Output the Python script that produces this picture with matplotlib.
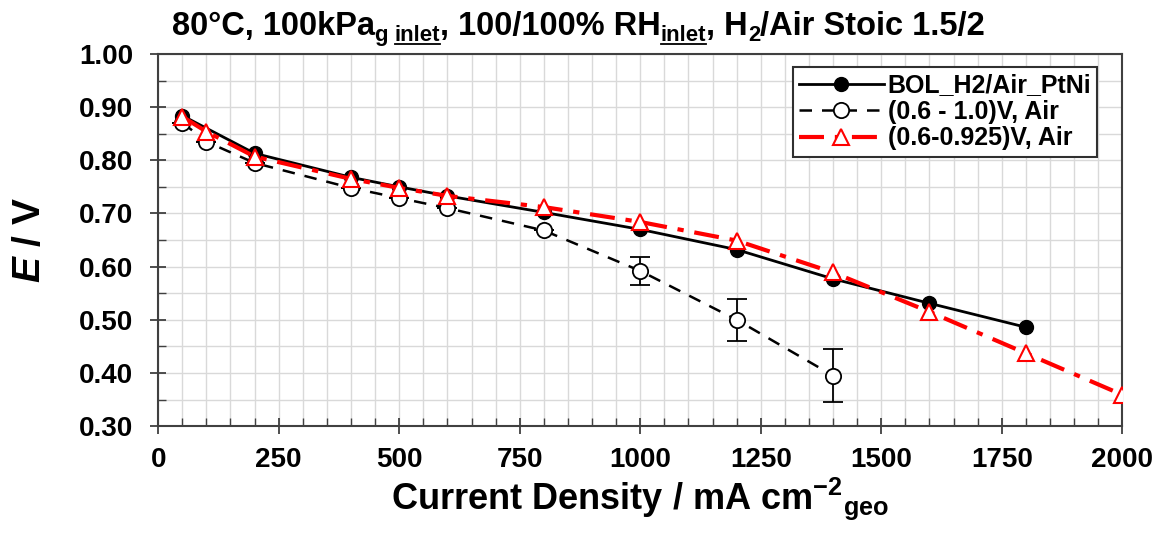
import matplotlib
matplotlib.use("Agg")
import matplotlib.pyplot as plt
from matplotlib.ticker import MultipleLocator, FormatStrFormatter
from matplotlib.lines import Line2D

plt.rcParams['font.family'] = ['Liberation Sans', 'DejaVu Sans']
plt.rcParams['font.weight'] = 'bold'
plt.rcParams['mathtext.fontset'] = 'custom'
plt.rcParams['mathtext.rm'] = 'Liberation Sans:bold'
plt.rcParams['mathtext.it'] = 'Liberation Sans:bold:italic'
plt.rcParams['mathtext.bf'] = 'Liberation Sans:bold'

# ---- data ----
bol_x = [50, 200, 400, 500, 600, 800, 1000, 1200, 1400, 1600, 1800]
bol_y = [0.884, 0.813, 0.768, 0.750, 0.733, 0.702, 0.670, 0.632, 0.577, 0.531, 0.486]

air10_x = [50, 100, 200, 400, 500, 600, 800, 1000, 1200, 1400]
air10_y = [0.871, 0.835, 0.795, 0.748, 0.729, 0.710, 0.668, 0.592, 0.500, 0.395]
air10_err = [0, 0, 0, 0, 0, 0, 0, 0.026, 0.040, 0.050]

air925_x = [50, 100, 200, 400, 500, 600, 800, 1000, 1200, 1400, 1600, 1800, 2000]
air925_y = [0.882, 0.854, 0.807, 0.765, 0.748, 0.733, 0.712, 0.684, 0.649, 0.589, 0.515, 0.437, 0.359]

labels = ["BOL_H2/Air_PtNi", "(0.6 - 1.0)V, Air", "(0.6-0.925)V, Air"]

fig = plt.figure(figsize=(11.63, 5.34), dpi=100)
ax = fig.add_axes([0.136, 0.202, 0.829, 0.697])

spine_col = '#404040'
ax.set_xlim(0, 2000)
ax.set_ylim(0.30, 1.00)
ax.xaxis.set_major_locator(MultipleLocator(250))
ax.xaxis.set_minor_locator(MultipleLocator(50))
ax.yaxis.set_major_locator(MultipleLocator(0.1))
ax.yaxis.set_minor_locator(MultipleLocator(0.05))
ax.yaxis.set_major_formatter(FormatStrFormatter('%.2f'))
ax.grid(True, which='both', color='#d9d9d9', linewidth=1.0, zorder=0)
ax.set_axisbelow(True)
for s in ax.spines.values():
    s.set_color(spine_col)
    s.set_linewidth(1.5)
ax.tick_params(which='major', direction='inout', length=12, width=1.3, color=spine_col,
               labelsize=20)
ax.tick_params(axis='y', which='major', pad=12)
ax.tick_params(axis='x', which='major', pad=9)
ax.tick_params(which='minor', direction='in', length=6, width=1.0, color=spine_col)

l1, = ax.plot(bol_x, bol_y, '-', color='black', lw=2.0, marker='o', ms=10,
              mfc='black', mec='black', zorder=3)
ax.errorbar(air10_x, air10_y, yerr=air10_err, fmt='none',
            ecolor='black', elinewidth=1.3, capsize=7, capthick=1.3, zorder=4)
l2, = ax.plot(air10_x, air10_y, color='black', lw=1.8, dashes=(5, 4),
              marker='o', ms=11, mfc='white', mec='black', mew=1.3, zorder=4)
l3, = ax.plot(air925_x, air925_y, color='red', lw=3.0, dashes=(6, 2.6, 1.5, 2.6),
              marker='^', ms=12, mfc='white', mec='red', mew=1.5, zorder=5)

for lab in ax.get_xticklabels() + ax.get_yticklabels():
    lab.set_fontweight('bold')

ax.set_xlabel('Current Density / mA cm$^{-2}$$_{\\rm geo}$', fontsize=26,
              fontweight='bold', labelpad=2)
ax.set_ylabel('$\\it{E}$ / V', fontsize=28, fontweight='bold', labelpad=22)

leg = ax.legend([l1, l2, l3], labels, loc='upper right',
                bbox_to_anchor=(0.982, 0.985), fontsize=18,
                frameon=True, fancybox=False, borderpad=0.25, labelspacing=0.1,
                handlelength=3.4, handletextpad=0.15, borderaxespad=0.3)
leg.get_frame().set_edgecolor('#303030')
leg.get_frame().set_linewidth(1.5)
leg.get_frame().set_alpha(1)

# ---- title built from pieces (with subscripts and underlines) ----
pieces = [
    ("80°C, 100kPa", 0, False),
    ("g ", 1, False),
    ("inlet", 1, True),
    (", 100/100% RH", 0, False),
    ("inlet", 1, True),
    (", H", 0, False),
    ("2", 1, False),
    ("/Air Stoic 1.5/2", 0, False),
]
fig.canvas.draw()
renderer = fig.canvas.get_renderer()


def draw_title(main_fs, x0_px, base_y_px):
    sub_fs = main_fs * 0.68
    x_px = x0_px
    arts = []
    for txt, sub, ul in pieces:
        fs = sub_fs if sub else main_fs
        y_px = base_y_px - (6 if sub else 0)
        t = fig.text(x_px / 1163, y_px / 534, txt, fontsize=fs, fontweight='bold',
                     ha='left', va='baseline')
        arts.append(t)
        w = t.get_window_extent(renderer).width
        if ul:
            ln = Line2D([x_px / 1163, (x_px + w) / 1163],
                        [(y_px - 3) / 534, (y_px - 3) / 534],
                        color='black', lw=1.3, transform=fig.transFigure)
            fig.add_artist(ln)
            arts.append(ln)
        x_px += w
    return arts, x_px - x0_px


arts, total = draw_title(19, 172, 534 - 35)
for a in arts:
    a.remove()
fs_fit = min(19 * 860 / total, 23.5)
arts, total = draw_title(fs_fit, 172, 534 - 35)

fig.savefig('out.png', dpi=100)
